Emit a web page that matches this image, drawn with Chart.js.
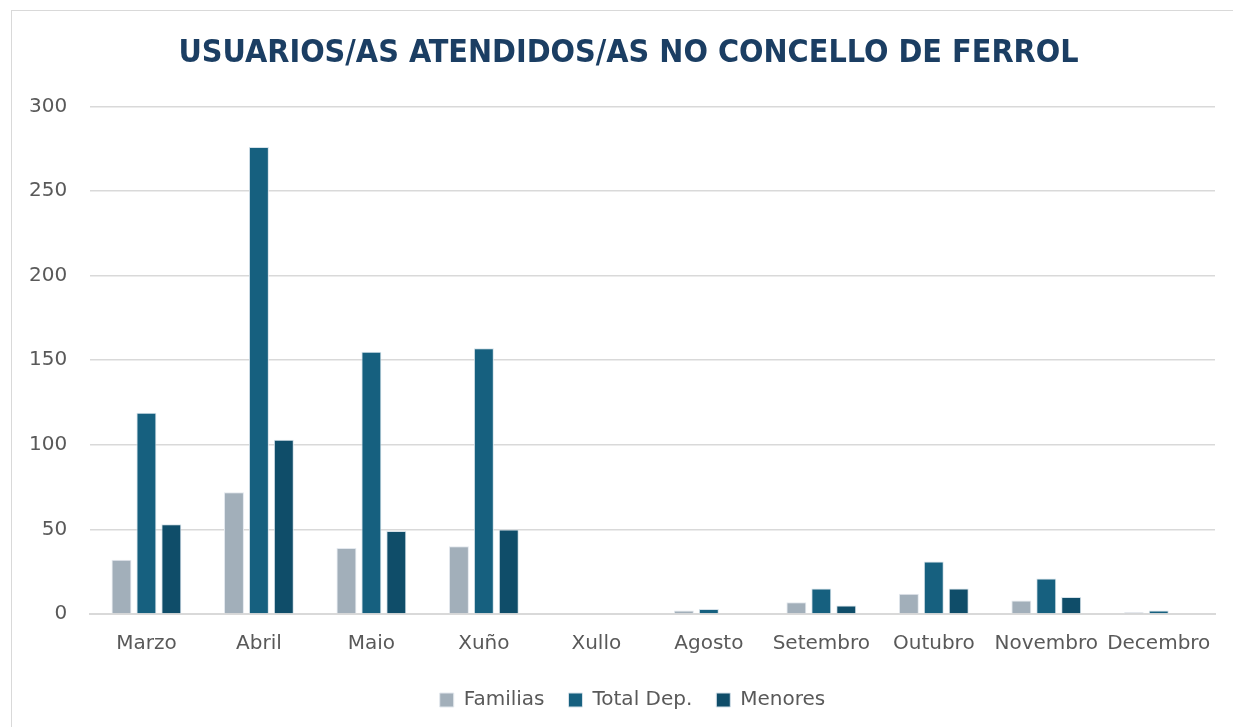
<!DOCTYPE html>
<html>
<head>
<meta charset="utf-8">
<script src="https://cdn.jsdelivr.net/npm/chart.js@4"></script>
<style>
html,body{margin:0;padding:0;background:#fff;}
#wrap{position:absolute;left:0;top:0;width:1233px;height:727px;}
#frame{position:absolute;left:11px;top:10px;width:1240px;height:740px;border:1.5px solid #d9d9d9;box-sizing:border-box;}
canvas{position:absolute;left:0;top:0;}
</style>
</head>
<body>
<div id="wrap"><div id="frame"></div><canvas id="c" width="1233" height="727"></canvas></div>
<script>
const categories = ["Marzo","Abril","Maio","Xuño","Xullo","Agosto","Setembro","Outubro","Novembro","Decembro"];
const familias = [32, 72, 39, 40, 0, 2, 7, 12, 8, 1];
const totalDep = [119, 276, 155, 157, 0, 3, 15, 31, 21, 2];
const menores = [53, 103, 49, 50, 0, 0, 5, 15, 10, 0];
const yTicks = [0, 50, 100, 150, 200, 250, 300];

const labelFont = "'DejaVu Sans','Liberation Sans'";

// Centre title and legend on the framed box rather than on the padded canvas
const recenter = {
  id: 'recenter',
  afterLayout(chart) {
    if (chart.titleBlock) { chart.titleBlock.left += 18; chart.titleBlock.right += 18; }
    if (chart.legend) { chart.legend.left += 22; chart.legend.right += 22; }
  }
};

new Chart(document.getElementById('c'), {
  type: 'bar',
  data: {
    labels: categories,
    datasets: [
      {label: 'Familias', data: familias, backgroundColor: '#a2afba', borderColor: '#e3e8ee', borderWidth: 1},
      {label: 'Total Dep.', data: totalDep, backgroundColor: '#16607f', borderColor: '#d6e2ea', borderWidth: 1},
      {label: 'Menores', data: menores, backgroundColor: '#0f4d69', borderColor: '#d6e2ea', borderWidth: 1}
    ]
  },
  plugins: [recenter],
  options: {
    responsive: false,
    animation: false,
    layout: {padding: {left: 6, right: 18, top: 0, bottom: 7}},
    datasets: {bar: {categoryPercentage: 0.665, barPercentage: 0.8}},
    plugins: {
      title: {
        display: true,
        text: 'USUARIOS/AS ATENDIDOS/AS NO CONCELLO DE FERROL',
        color: '#1b3e63',
        font: {family: "'Liberation Sans Narrow','DejaVu Sans Condensed','Liberation Sans'", size: 32, weight: 'bold'},
        padding: {top: 34, bottom: 34}
      },
      legend: {
        position: 'bottom',
        labels: {
          color: '#595959',
          boxWidth: 14, boxHeight: 14,
          padding: 24,
          font: {family: labelFont, size: 20}
        }
      },
      tooltip: {enabled: false}
    },
    scales: {
      x: {
        grid: {display: false},
        border: {color: '#d9d9d9', width: 2},
        ticks: {color: '#595959', padding: 10, font: {family: labelFont, size: 20}}
      },
      y: {
        min: 0, max: 300,
        afterBuildTicks: (ax) => { ax.ticks = yTicks.map(v => ({value: v})); },
        grid: {color: '#d9d9d9', lineWidth: 1.5, drawTicks: false},
        border: {display: false},
        ticks: {color: '#595959', padding: 23, font: {family: labelFont, size: 20}}
      }
    }
  }
});
</script>
</body>
</html>
